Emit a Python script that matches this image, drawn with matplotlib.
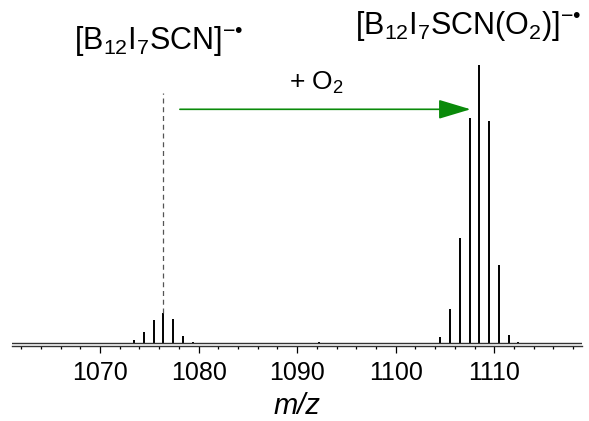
import numpy as np
import matplotlib
matplotlib.use("Agg")
import matplotlib.pyplot as plt

plt.rcParams['font.family'] = ['Liberation Sans', 'DejaVu Sans']
plt.rcParams['mathtext.fontset'] = 'custom'
plt.rcParams['mathtext.rm'] = 'Liberation Sans'
plt.rcParams['mathtext.it'] = 'Liberation Sans:italic'
plt.rcParams['mathtext.fallback'] = 'stixsans'

# =============================================================================
# DONNÉES
# =============================================================================
mz_ion = [1072.4, 1073.45, 1074.45, 1075.45, 1076.4, 1077.45, 1078.45, 1079.4]
int_ion = [0.3, 1.2, 4.2, 8.4, 11.0, 8.6, 2.8, 0.4]

mz_o2 = [1103.5, 1104.5, 1105.5, 1106.5, 1107.5, 1108.5, 1109.45, 1110.45, 1111.45, 1112.4]
int_o2 = [0.3, 2.4, 12.4, 37.9, 81.0, 100.0, 80.0, 28.0, 3.0, 0.5]

mz_noise = [1087.8, 1092.2]
int_noise = [0.3, 0.4]

mz_marque = 1076.4          # ligne pointillée
tick_major = [1070, 1080, 1090, 1100, 1110]
tick_minor = list(range(1062, 1120, 2))

# =============================================================================
# FIGURE
# =============================================================================
fig = plt.figure(figsize=(5.89, 4.21), dpi=100)
ax = fig.add_axes([0.021, 0.178, 0.967, 0.727])

mz = mz_ion + mz_noise + mz_o2
inten = int_ion + int_noise + int_o2
ax.vlines(mz, 0, inten, color='black', linewidth=1.4)
ax.axhline(0, color='#333333', linewidth=1.0)

# ligne pointillée au-dessus du pic principal
ax.plot([mz_marque, mz_marque], [max(int_ion), 89.8], color='#555555',
        linestyle=(0, (4, 3)), linewidth=0.9)

# flèche + O2
ax.annotate('', xy=(1107.6, 84.1), xytext=(1078.1, 84.1),
            arrowprops=dict(arrowstyle='-|>,head_length=2.0,head_width=0.6',
                            color='#0a8a0a', linewidth=1.2, shrinkA=0, shrinkB=0))
ax.text(1091.9, 91.0, r'+ O$_2$', ha='center', va='baseline', fontsize=19)

ax.text(1076.0, 105.6, '[B$_{12}$I$_7$SCN]$^{\u2212\u2022}$',
        ha='center', va='baseline', fontsize=22)
ax.text(1107.4, 111.0, '[B$_{12}$I$_7$SCN(O$_2$)]$^{\u2212\u2022}$',
        ha='center', va='baseline', fontsize=22)

ax.set_xlim(1061.1, 1118.9)
ax.set_ylim(-0.97, 109)
ax.set_xticks(tick_major)
ax.set_xticks(tick_minor, minor=True)
ax.set_yticks([])
ax.tick_params(axis='x', which='major', length=5, width=0.9, labelsize=18, pad=6)
ax.tick_params(axis='x', which='minor', length=2.5, width=0.9)
for s in ['top', 'right', 'left']:
    ax.spines[s].set_visible(False)
ax.spines['bottom'].set_linewidth(1.0)
ax.spines['bottom'].set_color('#333333')
ax.set_xlabel('m/z', fontsize=21, style='italic', labelpad=5)

fig.savefig('out.png', dpi=100)
